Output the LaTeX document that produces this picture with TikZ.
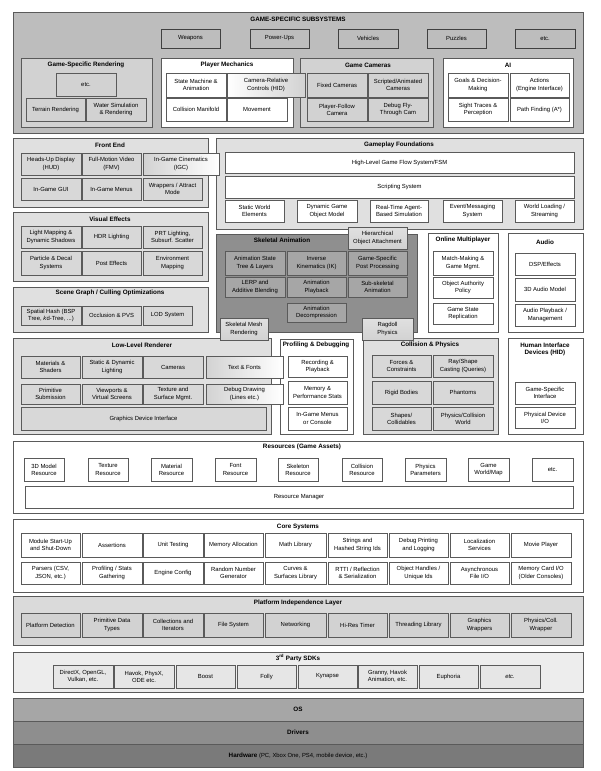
\documentclass[tikz,border=0pt]{standalone}
\usepackage{fontspec}
\setmainfont{Liberation Sans}
\usetikzlibrary{shadows}
\definecolor{gA}{HTML}{BDBDBD}
\definecolor{gB}{HTML}{D2D2D2}
\definecolor{gC}{HTML}{E0E0E0}
\definecolor{gCi}{HTML}{D8D8D8}
\definecolor{gP}{HTML}{DADADA}
\definecolor{gPi}{HTML}{D2D2D2}
\definecolor{gS}{HTML}{EDEDED}
\definecolor{gSi}{HTML}{E6E6E6}
\definecolor{gD}{HTML}{8F8F8F}
\definecolor{gE}{HTML}{A6A6A6}
\definecolor{osC}{HTML}{A6A6A6}
\definecolor{drC}{HTML}{8E8E8E}
\definecolor{hwC}{HTML}{7A7A7A}
\definecolor{lineC}{HTML}{5A5A5A}
\definecolor{lineD}{HTML}{404040}
\newcommand\fsz{\fontsize{5.9}{7.2}\selectfont}
\newcommand\ftl{\bfseries\fontsize{6.3}{7.2}\selectfont}
\newcommand\mybox[7]{\node[#6,anchor=north west,minimum width={(#4-#2)*1pt},minimum height={(#5-#3)*1pt}] (#1) at (#2,#3) {#7};}
\tikzset{
  base/.style={rectangle, inner sep=0pt, outer sep=0pt, align=center, font=\fsz, text=black},
  cont/.style={base, draw=lineC, line width=0.7pt, drop shadow={shadow xshift=0.8pt, shadow yshift=-0.8pt, fill=black!60, opacity=0.7}},
  bx/.style={base, draw=lineC, line width=0.5pt},
  ttl/.style={font=\ftl, inner sep=0pt, align=center},
  grR/.style={bx, left color=white, right color=gB},
  grL/.style={bx, left color=gB, right color=white},
  grT/.style={bx, top color=gC, bottom color=gB},
}
\begin{document}
\begin{tikzpicture}[x=1pt,y=-1pt]
\useasboundingbox[fill=white] (0,0) rectangle (601,771);

% ---------------- GAME-SPECIFIC SUBSYSTEMS
\mybox{gss}{13}{12}{583}{133}{cont,fill=gA}{}
\node[ttl] (gssT) at (298,19) {GAME-SPECIFIC SUBSYSTEMS};
\mybox{weap}{161}{29}{220}{48}{bx,fill=gA,draw=lineD}{Weapons}
\mybox{pups}{250}{29}{309}{48}{bx,fill=gA,draw=lineD}{Power-Ups}
\mybox{veh}{338}{29}{398}{48}{bx,fill=gA,draw=lineD}{Vehicles}
\mybox{puz}{427}{29}{486}{48}{bx,fill=gA,draw=lineD}{Puzzles}
\mybox{gssetc}{515}{29}{575}{48}{bx,fill=gA,draw=lineD}{etc.}

\mybox{gsr}{21}{58}{152}{127}{bx,fill=gB}{}
\node[ttl] (gsrT) at (86,65) {Game-Specific Rendering};
\mybox{gsretc}{56}{73}{116}{96}{bx,fill=gB}{etc.}
\mybox{terr}{26}{98}{85}{121}{bx,fill=gB}{Terrain Rendering}
\mybox{water}{86}{98}{146}{121}{bx,fill=gB}{Water Simulation\\\& Rendering}

\mybox{pm}{161}{58}{293}{127}{bx,fill=white}{}
\node[ttl] (pmT) at (227,65) {Player Mechanics};
\mybox{smach}{166}{73}{226}{97}{bx,fill=white}{State Machine \&\\Animation}
\mybox{cman}{166}{98}{226}{121}{bx,fill=white}{Collision Manifold}
\mybox{move}{227}{98}{287}{121}{bx,fill=white}{Movement}

\mybox{gcam}{300}{58}{433}{127}{bx,fill=gB}{}
\node[ttl] (gcamT) at (368,65) {Game Cameras};
\mybox{fixc}{307}{73}{367}{97}{bx,fill=gB}{Fixed Cameras}
\mybox{scrc}{368}{73}{428}{97}{bx,fill=gB}{Scripted/Animated\\Cameras}
\mybox{pfc}{307}{98}{367}{121}{bx,fill=gB}{Player-Follow\\Camera}
\mybox{dfc}{368}{98}{428}{121}{bx,fill=gB}{Debug Fly-\\Through Cam}
\mybox{crc}{227}{73}{305}{97}{grR}{Camera-Relative\\Controls (HID)}

\mybox{ai}{443}{58}{573}{127}{bx,fill=white}{}
\node[ttl] (aiT) at (508,65) {AI};
\mybox{goals}{448}{73}{508}{97}{bx,fill=white}{Goals \& Decision-\\Making}
\mybox{acts}{510}{73}{569}{97}{bx,fill=white}{Actions\\(Engine Interface)}
\mybox{sight}{448}{98}{508}{121}{bx,fill=white}{Sight Traces \&\\Perception}
\mybox{pathf}{510}{98}{569}{121}{bx,fill=white}{Path Finding (A*)}

% ---------------- FRONT END
\mybox{fe}{13}{138}{208}{207}{cont,fill=gC}{}
\node[ttl] (feT) at (110,145) {Front End};
\mybox{hud}{21}{153}{81}{175}{bx,fill=gCi}{Heads-Up Display\\(HUD)}
\mybox{fmv}{82}{153}{141}{175}{bx,fill=gCi}{Full-Motion Video\\(FMV)}
\mybox{gui}{21}{178}{81}{200}{bx,fill=gCi}{In-Game GUI}
\mybox{igmenu}{82}{178}{141}{200}{bx,fill=gCi}{In-Game Menus}
\mybox{wrap}{143}{178}{202}{200}{bx,fill=gCi}{Wrappers / Attract\\Mode}

% ---------------- GAMEPLAY FOUNDATIONS
\mybox{gf}{216}{138}{583}{229}{cont,fill=gC}{}
\node[ttl] (gfT) at (399,145) {Gameplay Foundations};
\mybox{hlgf}{225}{152}{574}{173}{bx,fill=white}{High-Level Game Flow System/FSM}
\mybox{scs}{225}{176}{574}{198}{bx,fill=white}{Scripting System}
\mybox{swe}{225}{200}{284}{222}{bx,fill=white}{Static World\\Elements}
\mybox{dgom}{297}{200}{357}{222}{bx,fill=white}{Dynamic Game\\Object Model}
\mybox{rta}{370}{200}{428}{222}{bx,fill=white}{Real-Time Agent-\\Based Simulation}
\mybox{ems}{443}{200}{502}{222}{bx,fill=white}{Event/Messaging\\System}
\mybox{wls}{515}{200}{574}{222}{bx,fill=white}{World Loading /\\Streaming}
\mybox{igc}{143}{153}{219}{175}{grL}{In-Game Cinematics\\(IGC)}

% ---------------- VISUAL EFFECTS
\mybox{vfx}{13}{212}{208}{281}{cont,fill=gC}{}
\node[ttl] (vfxT) at (110,219) {Visual Effects};
\mybox{lmap}{21}{226}{81}{248}{bx,fill=gCi}{Light Mapping \&\\Dynamic Shadows}
\mybox{hdr}{82}{226}{141}{248}{bx,fill=gCi}{HDR Lighting}
\mybox{prt}{143}{226}{202}{248}{bx,fill=gCi}{PRT Lighting,\\Subsurf. Scatter}
\mybox{pds}{21}{251}{81}{275}{bx,fill=gCi}{Particle \& Decal\\Systems}
\mybox{pfx}{82}{251}{141}{275}{bx,fill=gCi}{Post Effects}
\mybox{envm}{143}{251}{202}{275}{bx,fill=gCi}{Environment\\Mapping}

% ---------------- SCENE GRAPH
\mybox{sg}{13}{287}{208}{332}{cont,fill=gC}{}
\node[ttl] (sgT) at (110,293) {Scene Graph / Culling Optimizations};
\mybox{shash}{21}{306}{81}{325}{bx,fill=gCi}{Spatial Hash (BSP\\Tree, \textit{k}d-Tree, ...)}
\mybox{occ}{82}{306}{141}{325}{bx,fill=gCi}{Occlusion \& PVS}
\mybox{lod}{143}{306}{192}{325}{bx,fill=gCi}{LOD System}

% ---------------- SKELETAL ANIMATION
\mybox{skel}{216}{234}{417}{332}{cont,fill=gD}{}
\node[ttl] (skelT) at (282,240) {Skeletal Animation};
\mybox{ast}{225}{251}{285}{275}{bx,fill=gE}{Animation State\\Tree \& Layers}
\mybox{ik}{287}{251}{346}{275}{bx,fill=gE}{Inverse\\Kinematics (IK)}
\mybox{gspp}{348}{251}{407}{275}{bx,fill=gE}{Game-Specific\\Post Processing}
\mybox{lerp}{225}{277}{285}{297}{bx,fill=gE}{LERP and\\Additive Blending}
\mybox{aplay}{287}{277}{346}{297}{bx,fill=gE}{Animation\\Playback}
\mybox{ssa}{348}{277}{407}{297}{bx,fill=gE}{Sub-skeletal\\Animation}
\mybox{adec}{287}{303}{346}{322}{bx,fill=gE}{Animation\\Decompression}
\mybox{hoa}{348}{227}{407}{249}{grT}{Hierarchical\\Object Attachment}

% ---------------- ONLINE MULTIPLAYER
\mybox{om}{428}{233}{498}{332}{cont,fill=white}{}
\node[ttl] (omT) at (463,240) {Online Multiplayer};
\mybox{mmg}{433}{251}{493}{275}{bx,fill=white}{Match-Making \&\\Game Mgmt.}
\mybox{oap}{433}{277}{493}{298}{bx,fill=white}{Object Authority\\Policy}
\mybox{gsrep}{433}{303}{493}{324}{bx,fill=white}{Game State\\Replication}

% ---------------- AUDIO
\mybox{aud}{508}{233}{583}{332}{cont,fill=white}{}
\node[ttl] (audT) at (545,242) {Audio};
\mybox{dsp}{515}{253}{575}{275}{bx,fill=white}{DSP/Effects}
\mybox{a3d}{515}{278}{575}{301}{bx,fill=white}{3D Audio Model}
\mybox{apm}{515}{304}{575}{326}{bx,fill=white}{Audio Playback /\\Management}

% ---------------- LOW-LEVEL RENDERER
\mybox{llr}{13}{338}{271}{434}{cont,fill=gC}{}
\node[ttl] (llrT) at (142,345) {Low-Level Renderer};
\mybox{mats}{21}{356}{80}{378}{bx,fill=gCi}{Materials \&\\Shaders}
\mybox{sdl}{82}{356}{142}{378}{bx,fill=gCi}{Static \& Dynamic\\Lighting}
\mybox{cams}{143}{356}{203}{378}{bx,fill=gCi}{Cameras}
\mybox{psub}{21}{384}{80}{404}{bx,fill=gCi}{Primitive\\Submission}
\mybox{vvs}{82}{384}{142}{404}{bx,fill=gCi}{Viewports \&\\Virtual Screens}
\mybox{tsm}{143}{384}{203}{404}{bx,fill=gCi}{Texture and\\Surface Mgmt.}
\mybox{gdi}{21}{407}{266}{430}{bx,fill=gCi}{Graphics Device Interface}

% ---------------- PROFILING & DEBUGGING
\mybox{pd}{280}{339}{353}{434}{cont,fill=white}{}
\node[ttl] (pdT) at (316,345) {Profiling \& Debugging};
\mybox{recp}{288}{356}{347}{377}{bx,fill=white}{Recording \&\\Playback}
\mybox{mps}{288}{381}{347}{404}{bx,fill=white}{Memory \&\\Performance Stats}
\mybox{igmc}{288}{407}{347}{430}{bx,fill=white}{In-Game Menus\\or Console}
\mybox{tfont}{206}{356}{283}{378}{grL}{Text \& Fonts}
\mybox{ddraw}{206}{384}{283}{404}{grL}{Debug Drawing\\(Lines etc.)}

% ---------------- COLLISION & PHYSICS
\mybox{cp}{363}{338}{498}{434}{cont,fill=gC}{}
\node[ttl] (cpT) at (430,345) {Collision \& Physics};
\mybox{fcon}{372}{355}{431}{377}{bx,fill=gCi}{Forces \&\\Constraints}
\mybox{rsc}{433}{355}{493}{377}{bx,fill=gCi}{Ray/Shape\\Casting (Queries)}
\mybox{rbod}{372}{381}{431}{404}{bx,fill=gCi}{Rigid Bodies}
\mybox{phan}{433}{381}{493}{404}{bx,fill=gCi}{Phantoms}
\mybox{shc}{372}{407}{431}{430}{bx,fill=gCi}{Shapes/\\Collidables}
\mybox{pcw}{433}{407}{493}{430}{bx,fill=gCi}{Physics/Collision\\World}
\mybox{smr}{220}{318}{268}{340}{grT}{Skeletal Mesh\\Rendering}
\mybox{rag}{362}{318}{413}{340}{grT}{Ragdoll\\Physics}

% ---------------- HID
\mybox{hid}{508}{338}{583}{434}{cont,fill=white}{}
\node[ttl] (hidT) at (545,349) {Human Interface\\Devices (HID)};
\mybox{gsi}{515}{382}{575}{404}{bx,fill=white}{Game-Specific\\Interface}
\mybox{pdio}{515}{407}{575}{428}{bx,fill=white}{Physical Device\\I/O}

% ---------------- RESOURCES
\mybox{res}{13}{441}{583}{513}{cont,fill=white}{}
\node[ttl] (resT) at (302,447) {Resources (Game Assets)};
\mybox{r3d}{24}{458}{64}{481}{bx,fill=white}{3D Model\\Resource}
\mybox{rtex}{88}{458}{128}{481}{bx,fill=white}{Texture\\Resource}
\mybox{rmat}{151}{458}{192}{481}{bx,fill=white}{Material\\Resource}
\mybox{rfont}{215}{458}{256}{481}{bx,fill=white}{Font\\Resource}
\mybox{rskel}{278}{458}{318}{481}{bx,fill=white}{Skeleton\\Resource}
\mybox{rcol}{342}{458}{382}{481}{bx,fill=white}{Collision\\Resource}
\mybox{rphys}{405}{458}{446}{481}{bx,fill=white}{Physics\\Parameters}
\mybox{rgw}{468}{458}{509}{481}{bx,fill=white}{Game\\World/Map}
\mybox{retc}{532}{458}{573}{481}{bx,fill=white}{etc.}
\mybox{rman}{25}{486}{573}{508}{bx,fill=white}{Resource Manager}

% ---------------- CORE SYSTEMS
\mybox{core}{13}{519}{583}{592}{cont,fill=white}{}
\node[ttl] (coreT) at (298,527) {Core Systems};
\mybox{c11}{21}{533}{80}{557}{bx,fill=white}{Module Start-Up\\and Shut-Down}
\mybox{c12}{82}{533}{142}{557}{bx,fill=white}{Assertions}
\mybox{c13}{143}{533}{203}{557}{bx,fill=white}{Unit Testing}
\mybox{c14}{204}{533}{263}{557}{bx,fill=white}{Memory Allocation}
\mybox{c15}{265}{533}{326}{557}{bx,fill=white}{Math Library}
\mybox{c16}{328}{533}{387}{557}{bx,fill=white}{Strings and\\Hashed String Ids}
\mybox{c17}{389}{533}{448}{557}{bx,fill=white}{Debug Printing\\and Logging}
\mybox{c18}{450}{533}{509}{557}{bx,fill=white}{Localization\\Services}
\mybox{c19}{511}{533}{571}{557}{bx,fill=white}{Movie Player}
\mybox{c21}{21}{562}{80}{584}{bx,fill=white}{Parsers (CSV,\\JSON, etc.)}
\mybox{c22}{82}{562}{142}{584}{bx,fill=white}{Profiling / Stats\\Gathering}
\mybox{c23}{143}{562}{203}{584}{bx,fill=white}{Engine Config}
\mybox{c24}{204}{562}{263}{584}{bx,fill=white}{Random Number\\Generator}
\mybox{c25}{265}{562}{326}{584}{bx,fill=white}{Curves \&\\Surfaces Library}
\mybox{c26}{328}{562}{387}{584}{bx,fill=white}{RTTI / Reflection\\\& Serialization}
\mybox{c27}{389}{562}{448}{584}{bx,fill=white}{Object Handles /\\Unique Ids}
\mybox{c28}{450}{562}{509}{584}{bx,fill=white}{Asynchronous\\File I/O}
\mybox{c29}{511}{562}{571}{584}{bx,fill=white}{Memory Card I/O\\(Older Consoles)}

% ---------------- PLATFORM INDEPENDENCE LAYER
\mybox{pil}{13}{596}{583}{645}{cont,fill=gP}{}
\node[ttl] (pilT) at (298,603) {Platform Independence Layer};
\mybox{p1}{21}{613}{80}{637}{bx,fill=gPi}{Platform Detection}
\mybox{p2}{82}{613}{142}{637}{bx,fill=gPi}{Primitive Data\\Types}
\mybox{p3}{143}{613}{203}{637}{bx,fill=gPi}{Collections and\\Iterators}
\mybox{p4}{204}{613}{263}{637}{bx,fill=gPi}{File System}
\mybox{p5}{265}{613}{326}{637}{bx,fill=gPi}{Networking}
\mybox{p6}{328}{613}{387}{637}{bx,fill=gPi}{Hi-Res Timer}
\mybox{p7}{389}{613}{448}{637}{bx,fill=gPi}{Threading Library}
\mybox{p8}{450}{613}{509}{637}{bx,fill=gPi}{Graphics\\Wrappers}
\mybox{p9}{511}{613}{571}{637}{bx,fill=gPi}{Physics/Coll.\\Wrapper}

% ---------------- 3RD PARTY SDKs
\mybox{sdk}{13}{652}{583}{692}{cont,fill=gS}{}
\node[ttl] (sdkT) at (298,658) {3\textsuperscript{rd} Party SDKs};
\mybox{s1}{53}{665}{113}{688}{bx,fill=gSi}{DirectX, OpenGL,\\Vulkan, etc.}
\mybox{s2}{114}{665}{174}{688}{bx,fill=gSi}{Havok, PhysX,\\ODE etc.}
\mybox{s3}{176}{665}{235}{688}{bx,fill=gSi}{Boost}
\mybox{s4}{237}{665}{296}{688}{bx,fill=gSi}{Folly}
\mybox{s5}{298}{665}{357}{688}{bx,fill=gSi}{Kynapse}
\mybox{s6}{358}{665}{417}{688}{bx,fill=gSi}{Granny, Havok\\Animation, etc.}
\mybox{s7}{419}{665}{478}{688}{bx,fill=gSi}{Euphoria}
\mybox{s8}{480}{665}{540}{688}{bx,fill=gSi}{\textit{etc.}}

% ---------------- OS / DRIVERS / HARDWARE
\mybox{os}{13}{698}{583}{721}{cont,fill=osC}{\ftl OS}
\mybox{drv}{13}{721}{583}{744}{cont,fill=drC}{\ftl Drivers}
\mybox{hw}{13}{744}{583}{767}{cont,fill=hwC}{{\ftl Hardware} (PC, Xbox One, PS4, mobile device, etc.)}
\end{tikzpicture}
\end{document}
